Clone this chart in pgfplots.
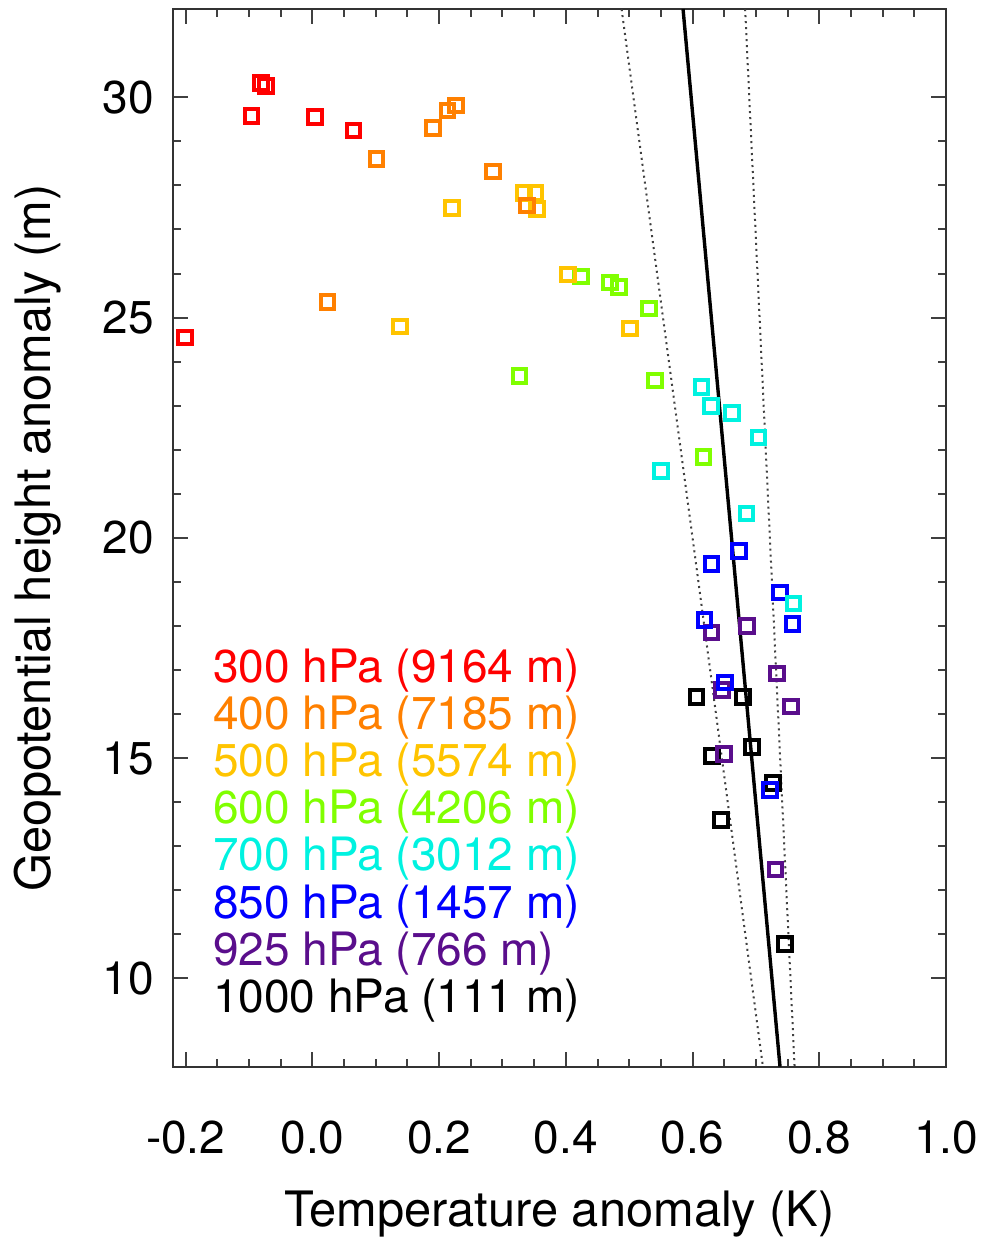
\documentclass[border=0pt]{standalone}
\usepackage{fontspec}
\setmainfont{TeX Gyre Heros}
\usepackage{pgfplots}
\pgfplotsset{compat=1.18}
\definecolor{c300}{HTML}{FF0000}
\definecolor{c400}{HTML}{FF8000}
\definecolor{c500}{HTML}{FFC400}
\definecolor{c600}{HTML}{80FF00}
\definecolor{c700}{HTML}{00F2E0}
\definecolor{c850}{HTML}{0000FF}
\definecolor{c925}{HTML}{5A0E8C}
\definecolor{c1000}{HTML}{000000}

\begin{document}
\fontsize{11.5}{13.8}\selectfont
\begin{tikzpicture}
\begin{axis}[
  name=ax,
  scale only axis,
  width=193.25pt, height=264.35pt,
  xmin=-0.22, xmax=1.0, ymin=8, ymax=32,
  xtick={-0.2,0,0.2,0.4,0.6,0.8,1.0},
  minor x tick num=3,
  ytick={10,15,20,25,30},
  minor y tick num=4,
  tick align=inside,
  major tick length=3.75pt,
  minor tick length=2pt,
  tick style={line width=0.5pt, black!75},
  axis line style={line width=0.5pt, black!80},
  xticklabel style={/pgf/number format/fixed,
    /pgf/number format/fixed zerofill,
    /pgf/number format/precision=1, yshift=-9.5pt},
  yticklabel style={xshift=-0.7pt},
  /pgf/number format/assume math mode=true,
  xlabel={Temperature anomaly (K)},
  ylabel={Geopotential height anomaly (m)},
  label style={font=\fontsize{12.2}{14}\selectfont},
  xlabel style={at={(axis description cs:0.5,-0.1513)}, anchor=base},
  ylabel style={at={(axis description cs:-0.159,0.5)}, anchor=base},
  mark size=1.7pt,
]
% 1000 hPa
\addplot[only marks, mark=square, color=c1000, line width=1pt]
  coordinates {(0.606,16.39)(0.680,16.39)(0.694,15.26)(0.631,15.05)
               (0.727,14.43)(0.645,13.60)(0.746,10.78)};
% 925 hPa
\addplot[only marks, mark=square, color=c925, line width=1pt]
  coordinates {(0.630,17.85)(0.686,18.00)(0.733,16.92)(0.646,16.55)
               (0.755,16.17)(0.650,15.09)(0.731,12.47)};
% 850 hPa
\addplot[only marks, mark=square, color=c850, line width=1pt]
  coordinates {(0.673,19.70)(0.630,19.41)(0.738,18.76)(0.758,18.05)
               (0.619,18.14)(0.651,16.72)(0.722,14.28)};
% 700 hPa
\addplot[only marks, mark=square, color=c700, line width=1pt]
  coordinates {(0.614,23.42)(0.629,23.00)(0.662,22.83)(0.704,22.28)
               (0.550,21.52)(0.685,20.55)(0.759,18.51)};
% 600 hPa
\addplot[only marks, mark=square, color=c600, line width=1pt]
  coordinates {(0.424,25.93)(0.470,25.80)(0.484,25.69)(0.531,25.21)
               (0.327,23.67)(0.541,23.57)(0.617,21.84)};
% 500 hPa
\addplot[only marks, mark=square, color=c500, line width=1pt]
  coordinates {(0.334,27.83)(0.352,27.83)(0.354,27.47)(0.220,27.49)
               (0.138,24.80)(0.403,25.98)(0.501,24.75)};
% 400 hPa
\addplot[only marks, mark=square, color=c400, line width=1pt]
  coordinates {(0.101,28.60)(0.190,29.30)(0.213,29.70)(0.227,29.81)
               (0.285,28.32)(0.339,27.54)(0.024,25.35)};
% 300 hPa
\addplot[only marks, mark=square, color=c300, line width=1pt]
  coordinates {(-0.081,30.33)(-0.073,30.26)(-0.096,29.58)(0.004,29.55)
               (0.065,29.25)(-0.201,24.55)};
% fit and bounds
\addplot[black, line width=0.85pt] coordinates {(0.585,32)(0.738,8)};
\addplot[black!75, line width=0.5pt, densely dotted]
  coordinates {(0.488,32)(0.600,20)(0.711,8)};
\addplot[black!75, line width=0.5pt, densely dotted]
  coordinates {(0.683,32)(0.722,20)(0.761,8)};

\node[anchor=base west, inner sep=0pt, text=c300]  at (axis cs:-0.158,16.72) {300 hPa (9164 m)};
\node[anchor=base west, inner sep=0pt, text=c400]  at (axis cs:-0.158,15.65) {400 hPa (7185 m)};
\node[anchor=base west, inner sep=0pt, text=c500]  at (axis cs:-0.158,14.58) {500 hPa (5574 m)};
\node[anchor=base west, inner sep=0pt, text=c600]  at (axis cs:-0.158,13.51) {600 hPa (4206 m)};
\node[anchor=base west, inner sep=0pt, text=c700]  at (axis cs:-0.158,12.44) {700 hPa (3012 m)};
\node[anchor=base west, inner sep=0pt, text=c850]  at (axis cs:-0.158,11.37) {850 hPa (1457 m)};
\node[anchor=base west, inner sep=0pt, text=c925]  at (axis cs:-0.158,10.30) {925 hPa (766 m)};
\node[anchor=base west, inner sep=0pt, text=c1000] at (axis cs:-0.158,9.23)  {1000 hPa (111 m)};
\end{axis}
\pgfresetboundingbox
\path (ax.south west) ++(-43.25pt,-42.6pt) rectangle ++(245.75pt,309.25pt);
\end{tikzpicture}
\end{document}
